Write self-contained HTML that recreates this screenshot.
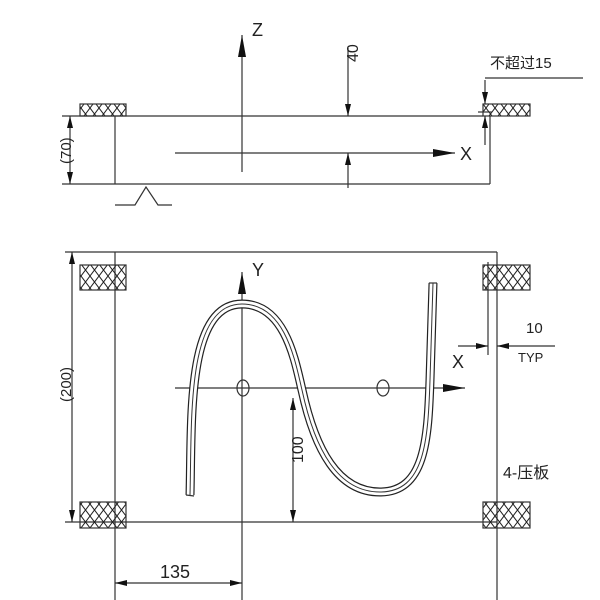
<!DOCTYPE html>
<html><head><meta charset="utf-8"><style>
html,body{margin:0;padding:0;background:#fff;width:600px;height:600px;overflow:hidden}
svg text{font-family:"Liberation Sans","Noto Sans CJK SC",sans-serif;fill:#222}
</style></head><body>
<svg width="600" height="600" viewBox="0 0 600 600" xmlns="http://www.w3.org/2000/svg">
<defs>
<pattern id="h" width="9" height="12" patternUnits="userSpaceOnUse">
<path d="M0,0 L9,12 M9,0 L0,12" stroke="#222" stroke-width="1"/>
</pattern>
<marker id="a" markerWidth="12" markerHeight="6" refX="12" refY="3" orient="auto" markerUnits="userSpaceOnUse">
<path d="M0,0 L12,3 L0,6z" fill="#111"/></marker>
<marker id="b" markerWidth="22" markerHeight="8" refX="22" refY="4" orient="auto" markerUnits="userSpaceOnUse">
<path d="M0,0 L22,4 L0,8z" fill="#111"/></marker>
</defs>
<g stroke="#333" stroke-width="1.2" fill="none">
<!-- top view -->
<line x1="62" y1="116" x2="483" y2="116"/>
<line x1="62" y1="184" x2="490" y2="184"/>
<line x1="115" y1="116" x2="115" y2="184"/>
<line x1="490" y1="116" x2="490" y2="184"/>
<rect x="80" y="104" width="46" height="12" fill="url(#h)"/>
<rect x="483" y="104" width="47" height="12" fill="url(#h)"/>
<polyline points="115,205 135,205 146,187 158,205 172,205"/>
<line x1="242" y1="172" x2="242" y2="35" marker-end="url(#b)"/>
<line x1="175" y1="153" x2="455" y2="153" marker-end="url(#b)"/>
<line x1="348" y1="48" x2="348" y2="116" marker-end="url(#a)"/>
<line x1="348" y1="188" x2="348" y2="153" marker-end="url(#a)"/>
<line x1="70" y1="150" x2="70" y2="116" marker-end="url(#a)"/>
<line x1="70" y1="150" x2="70" y2="184" marker-end="url(#a)"/>
<line x1="485" y1="78" x2="583" y2="78"/>
<line x1="485" y1="80" x2="485" y2="104" marker-end="url(#a)"/>
<line x1="485" y1="145" x2="485" y2="116" marker-end="url(#a)"/>
<line x1="478" y1="112" x2="492" y2="112"/>
<!-- bottom view -->
<line x1="65" y1="252" x2="497" y2="252"/>
<line x1="65" y1="522" x2="497" y2="522"/>
<line x1="497" y1="252" x2="497" y2="600"/>
<line x1="115" y1="252" x2="115" y2="600"/>
<rect x="80" y="265" width="46" height="25" fill="url(#h)"/>
<rect x="80" y="502" width="46" height="26" fill="url(#h)"/>
<rect x="483" y="265" width="47" height="25" fill="url(#h)"/>
<rect x="483" y="502" width="47" height="26" fill="url(#h)"/>
<line x1="72" y1="387" x2="72" y2="252" marker-end="url(#a)"/>
<line x1="72" y1="387" x2="72" y2="522" marker-end="url(#a)"/>
<line x1="242" y1="600" x2="242" y2="272" marker-end="url(#b)"/>
<line x1="175" y1="388" x2="465" y2="388" marker-end="url(#b)"/>
<ellipse cx="243" cy="388" rx="6" ry="8"/>
<ellipse cx="383" cy="388" rx="6" ry="8"/>
<path d="M190,495 C192,420 186,304 242,304 C285,304 295,360 302,390 C315,450 338,492 380,492 C425,492 428,440 430,380 L433,283" stroke="#222" stroke-width="9"/>
<path d="M190,495 C192,420 186,304 242,304 C285,304 295,360 302,390 C315,450 338,492 380,492 C425,492 428,440 430,380 L433,283" stroke="#fff" stroke-width="6.6"/>
<path d="M190,495 C192,420 186,304 242,304 C285,304 295,360 302,390 C315,450 338,492 380,492 C425,492 428,440 430,380 L433,283" stroke="#333" stroke-width="1"/>
<line x1="186" y1="495" x2="194" y2="496"/>
<line x1="429" y1="283" x2="437" y2="283"/>
<line x1="293" y1="450" x2="293" y2="398" marker-end="url(#a)"/>
<line x1="293" y1="450" x2="293" y2="522" marker-end="url(#a)"/>
<line x1="178" y1="583" x2="115" y2="583" marker-end="url(#a)"/>
<line x1="178" y1="583" x2="242" y2="583" marker-end="url(#a)"/>
<line x1="488" y1="262" x2="488" y2="355"/>
<line x1="458" y1="346" x2="488" y2="346" marker-end="url(#a)"/>
<line x1="555" y1="346" x2="497" y2="346" marker-end="url(#a)"/>
</g>
<g font-size="18">
<text x="252" y="36">Z</text>
<text x="460" y="160">X</text>
<text x="252" y="276">Y</text>
<text x="452" y="368">X</text>
<text x="345" y="75" transform="rotate(-90 345 62)" font-size="16">40</text>
<text x="50" y="157" transform="rotate(-90 64 150)" font-size="15">(70)</text>
<text x="50" y="395" transform="rotate(-90 64 388)" font-size="15">(200)</text>
<text x="285" y="471" transform="rotate(-90 290 458)" font-size="16">100</text>
<text x="160" y="578" font-size="18">135</text>
<text x="490" y="68" font-size="15">不超过15</text>
<text x="526" y="333" font-size="15">10</text>
<text x="518" y="362" font-size="13">TYP</text>
<text x="503" y="478" font-size="16">4-压板</text>
</g>
</svg>
</body></html>
